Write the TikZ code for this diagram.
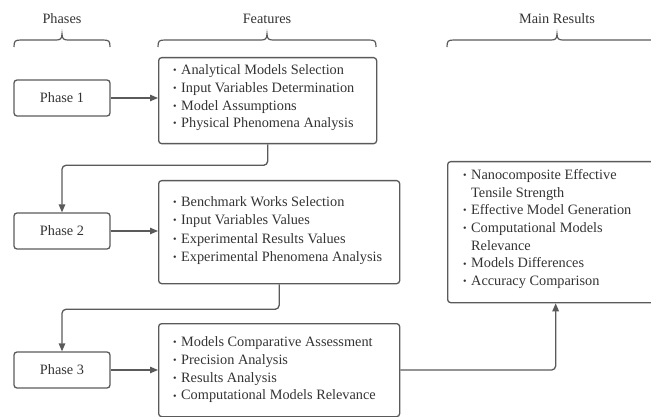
\documentclass[tikz,border=0pt]{standalone}
\usepackage{fontspec}
\setmainfont{Liberation Serif}
\usetikzlibrary{arrows.meta}
\definecolor{linec}{HTML}{5A5A5A}
\definecolor{textc}{HTML}{333333}
\newcommand\bul{\makebox[8pt][l]{\raisebox{0.9pt}{\fontsize{10}{10}\selectfont\textbullet}}}
\newcommand\ind{\hspace*{8pt}}
\begin{document}
\begin{tikzpicture}[x=1pt,y=-1pt,
  every node/.style={text=textc, font=\fontsize{14.3}{18}\selectfont},
  rbox/.style={draw=linec, line width=1.3pt, rounded corners=3pt, inner sep=0pt},
  conn/.style={draw=linec, line width=1.3pt, -{Triangle[length=8pt,width=6.5pt]}},
  brc/.style={draw=linec, line width=1.2pt},
  lst/.style={anchor=base west, inner sep=0pt}]
\useasboundingbox (0,0) rectangle (651,417);
\clip (0,0) rectangle (651,417);
% headers
\node[anchor=base] (hph) at (62,24) {Phases};
\node[anchor=base] (hfe) at (267,24) {Features};
\node[anchor=base] (hmr) at (557,24) {Main Results};
% braces
\foreach \a/\m/\b in {14/62/110, 158/267/376, 447/557/667}{
  \draw[brc] (\a,47) .. controls (\a,41) and (\a+1,40) .. (\a+7,40) -- (\m-6,40)
    .. controls (\m-2,40) and (\m,39) .. (\m,34)
    .. controls (\m,39) and (\m+2,40) .. (\m+6,40) -- (\b-7,40)
    .. controls (\b-1,40) and (\b,41) .. (\b,47);
}
% phase boxes
\node[rbox, minimum width=96pt, minimum height=36pt] (p1) at (62,98) {Phase 1};
\node[rbox, minimum width=96pt, minimum height=36pt] (p2) at (62,231) {Phase 2};
\node[rbox, minimum width=96pt, minimum height=36pt] (p3) at (62,370) {Phase 3};
% feature boxes
\node[rbox, anchor=north west, minimum width=218pt, minimum height=86pt] (f1) at (158,57) {};
\node[rbox, anchor=north west, minimum width=241pt, minimum height=103pt] (f2) at (158,180) {};
\node[rbox, anchor=north west, minimum width=241pt, minimum height=93pt] (f3) at (158,323) {};
\node[rbox, anchor=north west, minimum width=216pt, minimum height=141pt] (r) at (447,161) {};
% texts
\node[lst] (t1) at (173,74.5) {\parbox[t]{200pt}{\baselineskip=17.8pt
  \bul Analytical Models Selection\\
  \bul Input Variables Determination\\
  \bul Model Assumptions\\
  \bul Physical Phenomena Analysis}};
\node[lst] (t2) at (173,206.5) {\parbox[t]{225pt}{\baselineskip=18.3pt
  \bul Benchmark Works Selection\\
  \bul Input Variables Values\\
  \bul Experimental Results Values\\
  \bul Experimental Phenomena Analysis}};
\node[lst] (t3) at (173,346.5) {\parbox[t]{225pt}{\baselineskip=17.8pt
  \bul Models Comparative Assessment\\
  \bul Precision Analysis\\
  \bul Results Analysis\\
  \bul Computational Models Relevance}};
\node[lst] (t4) at (463,179.5) {\parbox[t]{190pt}{\baselineskip=17.7pt
  \bul Nanocomposite Effective\\
  \ind Tensile Strength\\
  \bul Effective Model Generation\\
  \bul Computational Models\\
  \ind Relevance\\
  \bul Models Differences\\
  \bul Accuracy Comparison}};
% connectors
\draw[conn] (p1.east) -- (f1.west |- p1.east);
\draw[conn] (p2.east) -- (f2.west |- p2.east);
\draw[conn] (p3.east) -- (f3.west |- p3.east);
\draw[conn, rounded corners=4pt] (f1.south) -- ++(0,21) -| (p2.north);
\draw[conn, rounded corners=4pt] (f2.south) -- ++(0,25) -| (p3.north);
\draw[conn, rounded corners=4pt] (f3.east |- p3.east) -| (r.south);
\end{tikzpicture}
\end{document}
